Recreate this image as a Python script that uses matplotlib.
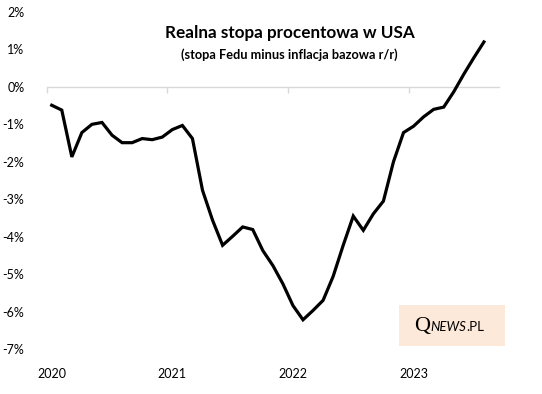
import matplotlib
matplotlib.use("Agg")
import matplotlib.pyplot as plt
import numpy as np
from matplotlib.patches import Rectangle

# Monthly data Jan 2020 - Aug 2023 (axis spans through Sep 2023)
n_categories = 45
real_rate = [-0.49, -0.62, -1.87, -1.22, -1.00, -0.95, -1.29, -1.49, -1.49, -1.38,
             -1.41, -1.34, -1.14, -1.03, -1.38, -2.76, -3.56, -4.23, -3.99, -3.74,
             -3.81, -4.37, -4.77, -5.26, -5.84, -6.22, -5.97, -5.70, -5.06, -4.23,
             -3.45, -3.83, -3.39, -3.05, -2.00, -1.22, -1.05, -0.80, -0.60, -0.54,
             -0.13, 0.34, 0.78, 1.20]
year_labels = ["2020", "2021", "2022", "2023"]
y_ticks = [2, 1, 0, -1, -2, -3, -4, -5, -6, -7]

title = "Realna stopa procentowa w USA"
subtitle = "(stopa Fedu minus inflacja bazowa r/r)"

plt.rcParams['font.family'] = ['Lato', 'DejaVu Sans']

W, H = 542, 394
fig = plt.figure(figsize=(W/100, H/100), dpi=100)
ax = fig.add_axes([46.7/W, 1-349/H, (499-46.7)/W, (349-12)/H])
ax.set_facecolor('none')

x = np.arange(len(real_rate))
ax.plot(x, real_rate, color='black', lw=2.3, solid_joinstyle='miter', zorder=3)

ax.set_xlim(-0.5, n_categories - 0.5)
ax.set_ylim(-7, 2)

for s in ['top', 'right', 'left']:
    ax.spines[s].set_visible(False)
ax.spines['bottom'].set_position(('data', 0))
ax.spines['bottom'].set_color('#D9D9D9')
ax.spines['bottom'].set_linewidth(1.0)

year_pos = np.arange(len(year_labels)) * 12
ax.set_xticks(year_pos - 0.5)
ax.set_xticklabels([])
ax.tick_params(axis='x', direction='out', length=4, color='#D9D9D9', width=1.0)

ax.set_yticks(y_ticks)
ax.set_yticklabels([f"{v}%" for v in y_ticks])
ax.tick_params(axis='y', length=0, pad=16, labelsize=9, labelcolor='black')

sec = ax.secondary_xaxis('bottom')
sec.spines['bottom'].set_visible(False)
sec.set_xticks(year_pos)
sec.set_xticklabels(year_labels)
sec.tick_params(length=0, pad=14, labelsize=9)

fig.text(290/W, 1-33/H, title, ha='center', va='center', fontsize=12.3,
         fontweight='bold')
fig.text(289/W, 1-55/H, subtitle, ha='center', va='center', fontsize=9.2,
         fontweight='bold')

# logo box
fig.patches.append(Rectangle((399/W, 1-345.7/H), (505-399)/W, (345.7-305)/H,
                             transform=fig.transFigure, facecolor='#FDE9D9',
                             edgecolor='none', zorder=-1))
base_y = 1-331/H
q = fig.text(414/W, base_y, "Q", ha='left', va='baseline', fontsize=16,
             family=['Liberation Serif'])
fig.canvas.draw()
r = fig.canvas.get_renderer()
x1 = q.get_window_extent(r).x1 / W + 0.5/W
news = fig.text(x1, base_y, "NEWS", ha='left', va='baseline', fontsize=9.5,
                style='italic')
fig.canvas.draw()
x2 = news.get_window_extent(r).x1 / W
fig.text(x2, base_y, ".PL", ha='left', va='baseline', fontsize=9.5)

fig.savefig("out.png", dpi=100)
